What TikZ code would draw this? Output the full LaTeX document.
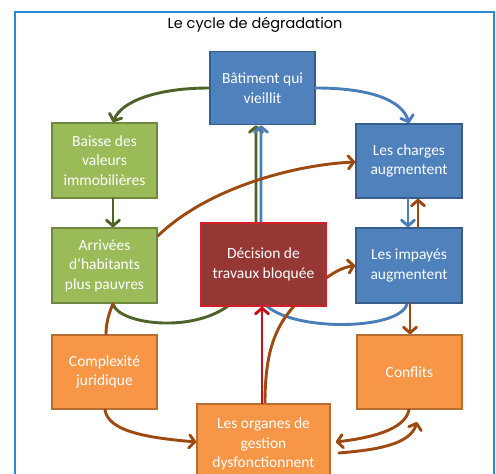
\documentclass[tikz,border=0pt]{standalone}
\usepackage{fontspec}
\newfontfamily\boxfont{Carlito}
\newfontfamily\titlefont{Poppins}
\usetikzlibrary{arrows.meta,calc}
\pgfdeclarelayer{back}
\pgfdeclarelayer{background}
\pgfsetlayers{back,background,main}
\definecolor{frameblue}{HTML}{2A8AD4}
\definecolor{bfill}{HTML}{4F81BD}
\definecolor{bline}{HTML}{385D8A}
\definecolor{gfill}{HTML}{9BBB59}
\definecolor{gline}{HTML}{71893F}
\definecolor{ofill}{HTML}{F79646}
\definecolor{oline}{HTML}{B66D31}
\definecolor{rfill}{HTML}{953735}
\definecolor{rline}{HTML}{D0202A}
\definecolor{cgreen}{HTML}{4F6228}
\definecolor{cblue}{HTML}{4A7EBB}
\definecolor{cbrown}{HTML}{9C4A12}
\definecolor{cred}{HTML}{C8101C}
\tikzset{
  box/.style={rectangle, draw, line width=1.6pt, text=white, align=center,
    font=\boxfont\fontsize{15.5}{19.5}\selectfont, inner sep=2pt},
  bluebox/.style={box, fill=bfill, draw=bline},
  greenbox/.style={box, fill=gfill, draw=gline},
  orangebox/.style={box, fill=ofill, draw=oline},
  redbox/.style={box, fill=rfill, draw=rline},
  conn/.style={line width=2.9pt, line cap=round},
  arr/.style={conn, -{Straight Barb[length=5.5pt,width=13pt,round]}},
}
\begin{document}
\begin{tikzpicture}[x=1pt,y=-1pt]
\useasboundingbox (0,0) rectangle (496,474);
\begin{pgfonlayer}{back}
\fill[white] (0,0) rectangle (496,474);
\draw[frameblue, line width=2pt] (15,12) rectangle (494,495);
\end{pgfonlayer}
\node[font=\titlefont\fontsize{14.5}{16}\selectfont] (title) at (255,25) {Le cycle de dégradation};

\node[bluebox, minimum width=105pt, minimum height=73pt] (bat) at (262.5,88) {Bâtiment qui\\vieillit};
\node[greenbox, minimum width=105pt, minimum height=75pt] (baisse) at (104.5,160.5) {Baisse des\\valeurs\\immobilières};
\node[greenbox, minimum width=105pt, minimum height=75pt] (arr) at (104.5,265.5) {Arrivées\\d’habitants\\plus pauvres};
\node[orangebox, minimum width=105pt, minimum height=74pt] (comp) at (104.5,372) {Complexité\\juridique};
\node[redbox, minimum width=125pt, minimum height=83pt] (dec) at (263.5,264.5) {Décision de\\travaux bloquée};
\node[bluebox, minimum width=106pt, minimum height=74pt] (charges) at (409,161) {Les charges\\augmentent};
\node[bluebox, minimum width=106pt, minimum height=75pt] (imp) at (409,265.5) {Les impayés\\augmentent};
\node[orangebox, minimum width=105pt, minimum height=74pt] (conf) at (409.5,372) {Conflits};
\node[orangebox, minimum width=133pt, minimum height=78pt, text depth=0pt] (org) at (263.5,443) {Les organes de\\gestion\\dysfonctionnent};

\begin{pgfonlayer}{background}
  % connectors passing behind the decision box
  \draw[arr, cgreen] ($(arr.south)+(8.5,0)$) .. controls (118,325) and (200,335) .. (235,300)
     -- (256,264) -- ($(bat.south)+(-6.5,0)$);
  \draw[arr, cblue] ($(imp.south)+(-2,0)$) .. controls (400,332) and (280,332) .. (262,300)
     -- (261,264) -- ($(bat.south)+(-1.5,0)$);
  \draw[arr, cbrown] ($(org.north)+(1.5,0)$) .. controls (265,345) and (278,320) .. (305,295)
     .. controls (325,278) and (338,268) .. (imp.west);
\end{pgfonlayer}

\draw[arr, cgreen] (bat.west) .. controls (160,88) and (122,100) .. ($(baisse.north)+(8.5,0)$);
\draw[arr, cblue] (bat.east) .. controls (370,88) and (402,100) .. (charges.north);
\draw[arr, cgreen] ($(baisse.south)+(8.5,0)$) -- ($(arr.north)+(8.5,0)$);
\draw[arr, cbrown] ($(arr.east)+(0,-29.5)$) .. controls (205,190) and (290,165) .. ($(charges.west)+(0,1)$);
\draw[arr, cblue] ($(charges.south)+(-1,0)$) -- ($(imp.north)+(-1,0)$);
\draw[arr, cbrown] ($(imp.north)+(9,0)$) -- ($(charges.south)+(9,0)$);
\draw[arr, cbrown] ($(imp.south)+(1,0)$) -- ($(conf.north)+(0.5,0)$);
\draw[conn, cbrown] ($(arr.south)+(8.5,0)$) .. controls (108,315) and (106,325) .. ($(comp.north)+(1.5,0)$);
\draw[arr, cbrown] ($(comp.south)+(0.5,0)$) .. controls (108,432) and (150,438) .. ($(org.west)+(0,-1)$);
\draw[arr, cbrown] ($(conf.south)+(-0.5,0)$) .. controls (405,430) and (370,438) .. ($(org.east)+(5,-1)$);
\coordinate (confend) at (417,422);
\draw[arr, cbrown] ($(org.east)+(8,10)$) .. controls (375,450) and (410,445) .. (confend);
\draw[arr, cred] ($(org.north)+(-1.5,0)$) -- ($(dec.south)+(-1.5,0)$);
\end{tikzpicture}
\end{document}
